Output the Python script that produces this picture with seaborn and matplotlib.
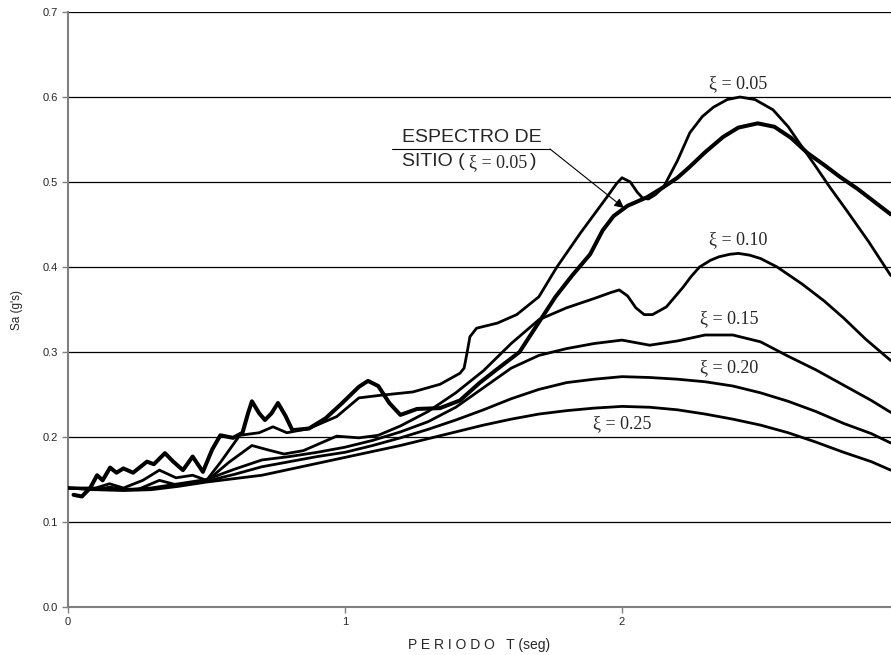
import matplotlib
matplotlib.use("Agg")
import matplotlib.pyplot as plt
import seaborn as sns
import pandas as pd

# ---------------- data ----------------
t_site = [0.02, 0.05, 0.08, 0.105, 0.125, 0.152, 0.175, 0.20, 0.235, 0.285, 0.31, 0.35, 0.38,
          0.415, 0.45, 0.487, 0.52, 0.55, 0.596, 0.63, 0.65, 0.664, 0.69, 0.711, 0.735, 0.758,
          0.785, 0.81, 0.87, 0.93, 0.99, 1.05, 1.083, 1.12, 1.16, 1.20, 1.26, 1.343, 1.415,
          1.487, 1.55, 1.63, 1.70, 1.76, 1.82, 1.885, 1.93, 1.97, 2.02, 2.09, 2.15, 2.20, 2.245,
          2.30, 2.365, 2.42, 2.49, 2.55, 2.61, 2.67, 2.73, 2.787, 2.85, 2.91, 2.97]
sa_site = [0.132, 0.130, 0.140, 0.155, 0.149, 0.164, 0.158, 0.163, 0.158, 0.171, 0.168, 0.181, 0.171,
           0.161, 0.177, 0.159, 0.185, 0.202, 0.199, 0.205, 0.228, 0.242, 0.228, 0.220, 0.228, 0.240,
           0.225, 0.208, 0.210, 0.222, 0.240, 0.259, 0.266, 0.260, 0.240, 0.226, 0.233, 0.234, 0.243,
           0.264, 0.280, 0.300, 0.335, 0.365, 0.390, 0.415, 0.443, 0.460, 0.472, 0.482, 0.494, 0.505,
           0.518, 0.535, 0.553, 0.564, 0.569, 0.565, 0.552, 0.534, 0.520, 0.506, 0.492, 0.477, 0.462]

t_05 = [0.0, 0.10, 0.15, 0.20, 0.27, 0.33, 0.39, 0.45, 0.50, 0.55, 0.62, 0.69, 0.74, 0.79, 0.87,
        0.97, 1.05, 1.126, 1.245, 1.343, 1.415, 1.43, 1.44, 1.451, 1.475, 1.55, 1.62, 1.70, 1.765,
        1.85, 1.945, 1.98, 2.00, 2.03, 2.055, 2.075, 2.095, 2.12, 2.15, 2.20, 2.245, 2.29, 2.33,
        2.38, 2.426, 2.48, 2.545, 2.60, 2.64, 2.70, 2.75, 2.81, 2.89, 2.97]
sa_05 = [0.140, 0.140, 0.145, 0.140, 0.149, 0.161, 0.152, 0.155, 0.149, 0.170, 0.202, 0.205, 0.212,
         0.205, 0.210, 0.224, 0.246, 0.249, 0.253, 0.262, 0.275, 0.281, 0.298, 0.318, 0.328, 0.334,
         0.344, 0.365, 0.400, 0.440, 0.482, 0.498, 0.505, 0.500, 0.488, 0.481, 0.480, 0.485, 0.494,
         0.525, 0.558, 0.577, 0.588, 0.597, 0.600, 0.597, 0.585, 0.565, 0.546, 0.518, 0.494, 0.467,
         0.430, 0.390]

t_10 = [0.0, 0.10, 0.15, 0.20, 0.25, 0.33, 0.40, 0.50, 0.58, 0.664, 0.72, 0.78, 0.85, 0.97, 1.05,
        1.12, 1.20, 1.30, 1.40, 1.50, 1.60, 1.70, 1.80, 1.90, 1.96, 1.99, 2.02, 2.05, 2.08, 2.11,
        2.16, 2.22, 2.25, 2.28, 2.32, 2.35, 2.39, 2.42, 2.46, 2.50, 2.56, 2.65, 2.73, 2.80, 2.88,
        2.97]
sa_10 = [0.140, 0.138, 0.141, 0.139, 0.138, 0.149, 0.143, 0.148, 0.170, 0.190, 0.185, 0.180, 0.184,
         0.201, 0.199, 0.202, 0.213, 0.230, 0.252, 0.278, 0.310, 0.338, 0.352, 0.363, 0.370, 0.373,
         0.366, 0.352, 0.344, 0.344, 0.353, 0.376, 0.389, 0.400, 0.408, 0.412, 0.415, 0.416, 0.414,
         0.410, 0.400, 0.380, 0.360, 0.340, 0.315, 0.290]

t_15 = [0.0, 0.1, 0.2, 0.3, 0.4, 0.5, 0.6, 0.7, 0.8, 0.9, 1.0, 1.1, 1.2, 1.3, 1.4, 1.5, 1.6, 1.7,
        1.8, 1.9, 2.0, 2.05, 2.1, 2.2, 2.3, 2.4, 2.5, 2.6, 2.7, 2.8, 2.9, 2.97]
sa_15 = [0.140, 0.139, 0.138, 0.140, 0.145, 0.150, 0.162, 0.173, 0.177, 0.182, 0.188, 0.196, 0.206,
         0.218, 0.235, 0.258, 0.281, 0.296, 0.304, 0.310, 0.314, 0.311, 0.308, 0.313, 0.320, 0.320,
         0.312, 0.295, 0.279, 0.261, 0.243, 0.229]

t_20 = [0.0, 0.1, 0.2, 0.3, 0.4, 0.5, 0.6, 0.7, 0.8, 0.9, 1.0, 1.1, 1.2, 1.3, 1.4, 1.5, 1.6, 1.7,
        1.8, 1.9, 2.0, 2.1, 2.2, 2.3, 2.4, 2.5, 2.6, 2.7, 2.8, 2.9, 2.97]
sa_20 = [0.140, 0.139, 0.138, 0.139, 0.143, 0.148, 0.156, 0.165, 0.171, 0.177, 0.182, 0.190, 0.199,
         0.209, 0.220, 0.232, 0.245, 0.256, 0.264, 0.268, 0.271, 0.270, 0.268, 0.265, 0.260, 0.252,
         0.242, 0.230, 0.216, 0.204, 0.193]

t_25 = [0.0, 0.1, 0.2, 0.3, 0.4, 0.5, 0.6, 0.7, 0.8, 0.9, 1.0, 1.1, 1.2, 1.3, 1.4, 1.5, 1.6, 1.7,
        1.8, 1.9, 2.0, 2.1, 2.2, 2.3, 2.4, 2.5, 2.6, 2.7, 2.8, 2.9, 2.97]
sa_25 = [0.140, 0.138, 0.137, 0.138, 0.142, 0.147, 0.151, 0.155, 0.162, 0.169, 0.176, 0.183, 0.190,
         0.198, 0.206, 0.214, 0.221, 0.227, 0.231, 0.234, 0.236, 0.235, 0.232, 0.227, 0.221, 0.214,
         0.205, 0.194, 0.182, 0.171, 0.161]

labels = ["\u03be = 0.05", "\u03be = 0.10", "\u03be = 0.15", "\u03be = 0.20", "\u03be = 0.25"]
label_pos = [(2.419, 0.616), (2.42, 0.432), (2.386, 0.339), (2.386, 0.282), (2.0, 0.216)]

x_ticks = [0, 1, 2]
y_ticks = [0.0, 0.1, 0.2, 0.3, 0.4, 0.5, 0.6, 0.7]

# ---------------- figure ----------------
sns.set_style("white")
plt.rcParams['font.family'] = ['Liberation Sans', 'DejaVu Sans']
SERIF = ["Liberation Serif", "DejaVu Serif"]

W, H = 891, 655
fig = plt.figure(figsize=(W / 100, H / 100), dpi=100)
ax = fig.add_axes([68 / W, (H - 607) / H, (W - 68) / W, (607 - 12) / H])

series = [(t_05, sa_05, 2.0), (t_10, sa_10, 2.0), (t_15, sa_15, 2.0),
          (t_20, sa_20, 2.0), (t_25, sa_25, 2.0), (t_site, sa_site, 2.9)]
for t, s, lw in series:
    df = pd.DataFrame({"T": t, "Sa": s})
    line = sns.lineplot(data=df, x="T", y="Sa", ax=ax, color="black", lw=lw,
                        sort=False, estimator=None, zorder=3)
for ln in ax.get_lines():
    ln.set_solid_joinstyle("round")
    ln.set_solid_capstyle("round")

ax.set_xlim(0, (W - 68) / 277)
ax.set_ylim(0, 0.7)
ax.set_xticks(x_ticks)
ax.set_xticklabels([str(v) for v in x_ticks])
ax.set_yticks(y_ticks)
ax.set_yticklabels([f"{v:.1f}" for v in y_ticks])
ax.yaxis.grid(True, color="black", lw=0.9, zorder=1)
ax.xaxis.grid(False)
for side in ["top", "right"]:
    ax.spines[side].set_visible(False)
for side in ["left", "bottom"]:
    ax.spines[side].set_color("#808080")
    ax.spines[side].set_linewidth(1.5)
ax.tick_params(axis="both", direction="out", length=4, width=1, color="#808080",
               labelsize=8, pad=3, left=True, bottom=True)
ax.set_xlabel("P E R I O D O   T (seg)", fontsize=10, labelpad=8)
ax.set_ylabel("Sa (g's)", fontsize=8.5, labelpad=14)

for lab, (x, y) in zip(labels, label_pos):
    ax.text(x, y, lab, ha="center", va="center", fontsize=13, family=SERIF, zorder=5)

# site-spectrum annotation
def dx(px):
    return (px - 68) / 277

def dy(py):
    return (607 - py) / 850

ax.text(dx(402), dy(137), "ESPECTRO DE", ha="left", va="center", fontsize=14)
ax.text(dx(402), dy(162), "SITIO (", ha="left", va="center", fontsize=14)
ax.text(dx(469), dy(163), "\u03be = 0.05", ha="left", va="center", fontsize=13, family=SERIF)
ax.text(dx(530), dy(162), ")", ha="left", va="center", fontsize=14)
ax.plot([dx(392), dx(550)], [dy(149), dy(149)], color="black", lw=0.8, zorder=4)
ax.annotate("", xy=(dx(624), dy(208)), xytext=(dx(550), dy(149)),
            arrowprops=dict(arrowstyle="-|>", color="black", lw=0.8,
                            mutation_scale=14, shrinkA=0, shrinkB=0), zorder=4)

fig.savefig("out.png", dpi=100)
